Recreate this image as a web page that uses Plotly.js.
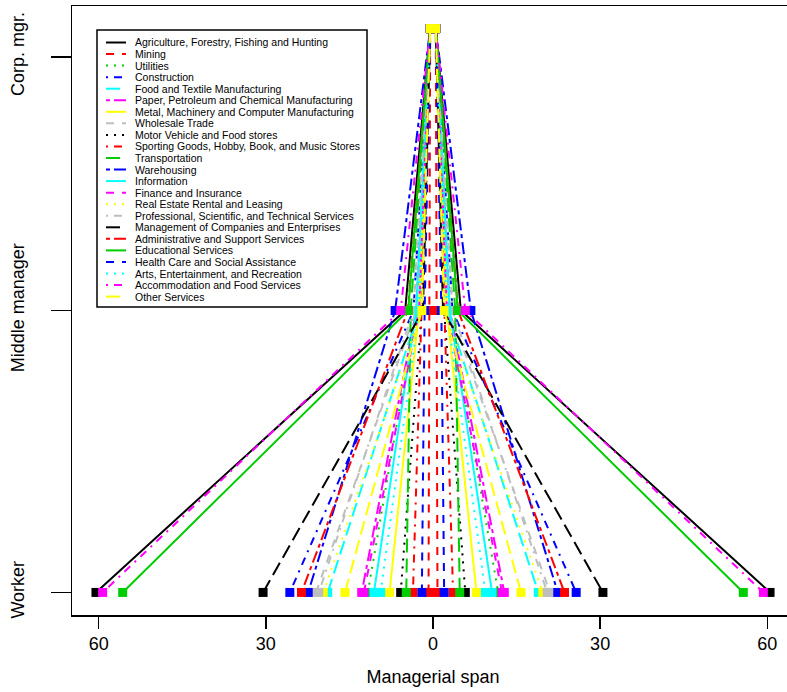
<!DOCTYPE html>
<html>
<head>
<meta charset="utf-8">
<script src="https://cdn.plot.ly/plotly-3.0.1.min.js"></script>
<style>
html,body{margin:0;padding:0;overflow:hidden;background:#fff;}
#wrap{width:787px;height:692px;overflow:hidden;}
#chart{width:800px;height:692px;}
</style>
</head>
<body>
<div id="wrap"><div id="chart"></div></div>
<script>
// ---- data ----
const categories = [
  "Agriculture, Forestry, Fishing and Hunting",
  "Mining",
  "Utilities",
  "Construction",
  "Food and Textile Manufacturing",
  "Paper, Petroleum and Chemical Manufacturing",
  "Metal, Machinery and Computer Manufacturing",
  "Wholesale Trade",
  "Motor Vehicle and Food stores",
  "Sporting Goods, Hobby, Book, and Music Stores",
  "Transportation",
  "Warehousing",
  "Information",
  "Finance and Insurance",
  "Real Estate Rental and Leasing",
  "Professional, Scientific, and Technical Services",
  "Management of Companies and Enterprises",
  "Administrative and Support Services",
  "Educational Services",
  "Health Care and Social Assistance",
  "Arts, Entertainment, and Recreation",
  "Accommodation and Food Services",
  "Other Services"
];
// half-width of each level (workers, middle managers, corporate managers)
const workerSpan = [60.5, 0.8, 11.7, 25.7, 18.9, 12.8, 7.8, 21.0, 5.8, 3.6, 4.8, 22.4, 10.6, 12.4, 19.7, 20.5, 30.5, 23.6, 55.7, 2.0, 9.4, 59.3, 15.8];
const middleSpan = [5.0, 0.7, 3.0, 3.5, 2.5, 3.0, 2.5, 3.0, 2.0, 2.0, 4.0, 6.8, 3.0, 2.5, 2.0, 3.5, 1.8, 4.5, 4.45, 1.5, 2.5, 5.8, 2.0];
const corpSpan   = [0.5, 0.5, 0.5, 0.5, 0.5, 0.5, 0.5, 0.5, 0.5, 0.5, 0.5, 0.5, 0.5, 0.5, 0.5, 0.5, 0.5, 0.5, 0.5, 0.5, 0.5, 0.5, 0.5];
const levelValues = [1, 2, 3];
const xTickVals = [-60, -30, 0, 30, 60];
const xTickText = ["60", "30", "0", "30", "60"];
const yTickVals = [1, 2, 2.9];
const yTickText = ["Worker", "Middle manager", "Corp. mgr."];

// ---- styles (R default palette / lty cycle) ----
const palette = ["#000000", "#FF0000", "#00CD00", "#0000FF", "#00FFFF", "#FF00FF", "#FFFF00", "#BEBEBE"];
const ltys = ["solid", "8px,8px", "2px,6px", "2px,6px,8px,6px", "14px,6px", "4px,4px,12px,4px"];

const traces = categories.map((name, i) => {
  const w = workerSpan[i], m = middleSpan[i], c = corpSpan[i];
  return {
    type: "scatter",
    mode: "lines+markers",
    name: name,
    x: [-w, -m, -c, c, m, w],
    y: [levelValues[0], levelValues[1], levelValues[2], levelValues[2], levelValues[1], levelValues[0]],
    line: {color: palette[i % 8], width: 2, dash: ltys[i % 6]},
    marker: {symbol: "square", size: 9, color: palette[i % 8]},
    showlegend: false,
    hoverinfo: "skip"
  };
});

// ---- layout geometry (pixels) ----
const W = 800, H = 692;
const mL = 72, mR = 6, mT = 6, mB = 77;
const pw = W - mL - mR, ph = H - mT - mB;
const px = v => (v - mL) / pw;
const py = v => (H - mB - v) / ph;

const shapes = [];
const annotations = [];
// legend box
shapes.push({type: "rect", xref: "paper", yref: "paper", x0: px(97), x1: px(367), y0: py(307), y1: py(30),
  line: {color: "#000", width: 1.5}, fillcolor: "#fff", layer: "above"});
categories.forEach((name, i) => {
  const yy = 42.5 + i * 11.55;
  shapes.push({type: "line", xref: "paper", yref: "paper", x0: px(106), x1: px(126), y0: py(yy), y1: py(yy),
    line: {color: palette[i % 8], width: 2, dash: ltys[i % 6]}, layer: "above"});
  annotations.push({xref: "paper", yref: "paper", x: px(133), y: py(yy), xanchor: "left", yanchor: "middle",
    text: name, showarrow: false, font: {family: "Liberation Sans, Arial, sans-serif", size: 10.5, color: "#000"}});
});

const layout = {
  width: W, height: H,
  margin: {l: mL, r: mR, t: mT, b: mB},
  paper_bgcolor: "#fff", plot_bgcolor: "#fff",
  font: {family: "Liberation Sans, Arial, sans-serif", color: "#000"},
  showlegend: false,
  xaxis: {
    range: [-64.8, 64.8], tickvals: xTickVals, ticktext: xTickText,
    showgrid: false, zeroline: false, showline: true, mirror: true, linecolor: "#000", linewidth: 1.5,
    ticks: "outside", ticklen: 12, tickwidth: 1.5, tickcolor: "#000",
    tickfont: {size: 18},
    title: {text: "Managerial span", font: {size: 18}, standoff: 17}
  },
  yaxis: {
    range: [0.92, 3.08], tickvals: yTickVals, ticktext: yTickText,
    showgrid: false, zeroline: false, showline: true, mirror: true, linecolor: "#000", linewidth: 1.5,
    ticks: "outside", ticklen: 20, tickwidth: 1.5, tickcolor: "#000",
    tickangle: -90, tickfont: {size: 18}, ticklabelstandoff: 19
  },
  shapes: shapes,
  annotations: annotations
};

Plotly.newPlot("chart", traces, layout, {staticPlot: true, displayModeBar: false});
</script>
</body>
</html>
